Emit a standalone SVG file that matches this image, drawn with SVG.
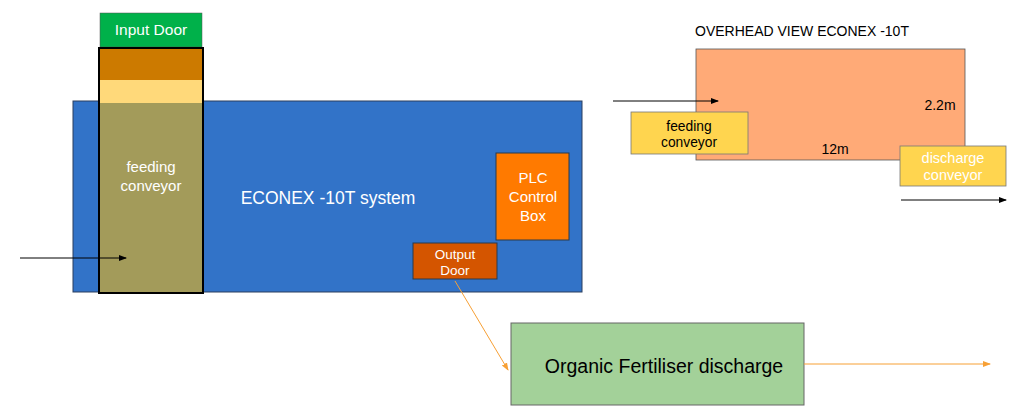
<svg xmlns="http://www.w3.org/2000/svg" width="1024" height="414" viewBox="0 0 1024 414">
<style>
text{font-family:"Liberation Sans",Arial,sans-serif;text-anchor:middle}
.w{fill:#ffffff}
.k{fill:#000000}
.box{stroke:#2a3a4a;stroke-width:1}
</style>
<defs>
<marker id="ak" markerWidth="8" markerHeight="8" refX="7" refY="4" orient="auto" markerUnits="userSpaceOnUse"><path d="M0,1 L8,4 L0,7 Z" fill="#000"/></marker>
<marker id="ao" markerWidth="8" markerHeight="8" refX="7" refY="4" orient="auto" markerUnits="userSpaceOnUse"><path d="M0,1 L8,4 L0,7 Z" fill="#F7A035"/></marker>
</defs>
<rect width="1024" height="414" fill="#fff"/>
<g id="system">
<rect x="73" y="101" width="509" height="191" fill="#3273C8" stroke="#2a3f5f" stroke-width="1"/>
<text x="328" y="204" class="w" font-size="17.5">ECONEX -10T system</text>
</g>
<g id="input-door">
<rect x="100" y="13" width="102" height="34" fill="#00B14A" stroke="#555" stroke-width="0.5"/>
<text x="151" y="35" class="w" font-size="15.5">Input Door</text>
</g>
<g id="feeding-conveyor">
<rect x="99" y="48" width="104" height="32" fill="#CC7A00"/>
<rect x="99" y="80" width="104" height="23" fill="#FFD97A"/>
<rect x="99" y="103" width="104" height="190" fill="#A39B5A"/>
<rect x="99" y="48" width="104" height="245" fill="none" stroke="#000" stroke-width="2"/>
<text x="151" y="172" class="w" font-size="15">feeding</text>
<text x="151" y="191" class="w" font-size="15">conveyor</text>
</g>
<g id="plc">
<rect x="496" y="153" width="73" height="87" fill="#FF7A00" class="box"/>
<text x="533" y="183" class="w" font-size="15">PLC</text>
<text x="533" y="202" class="w" font-size="15">Control</text>
<text x="533" y="221" class="w" font-size="15">Box</text>
</g>
<g id="output-door">
<rect x="413" y="243" width="84" height="36" fill="#D45500" class="box"/>
<text x="455" y="259" class="w" font-size="13.5">Output</text>
<text x="455" y="275" class="w" font-size="13.5">Door</text>
</g>
<g id="discharge">
<rect x="511" y="323" width="293" height="82" fill="#A3D199" stroke="#666" stroke-width="1"/>
<text x="664" y="373" class="k" font-size="19.5">Organic Fertiliser discharge</text>
</g>
<g id="overhead">
<text x="802" y="36" class="k" font-size="14">OVERHEAD VIEW ECONEX -10T</text>
<rect x="696" y="49" width="269" height="111" fill="#FFAA77" stroke="#555" stroke-width="0.8"/>
<text x="940" y="110" class="k" font-size="14">2.2m</text>
<text x="835" y="154" class="k" font-size="14">12m</text>
</g>
<g id="ov-feeding">
<rect x="631" y="112" width="117" height="42" fill="#FFD54F" stroke="#777" stroke-width="0.8"/>
<text x="689" y="131" class="k" font-size="13.8">feeding</text>
<text x="689" y="147" class="k" font-size="13.8">conveyor</text>
</g>
<g id="ov-discharge">
<rect x="900" y="146" width="106" height="40" fill="#FFD54F" stroke="#777" stroke-width="0.8"/>
<text x="953" y="163" class="w" font-size="14.5">discharge</text>
<text x="953" y="180" class="w" font-size="14.5">conveyor</text>
</g>
<g id="connectors" fill="none">
<line x1="20" y1="258" x2="126" y2="258" stroke="#000" stroke-width="1" marker-end="url(#ak)"/>
<line x1="455" y1="281" x2="508" y2="370" stroke="#F7A035" stroke-width="1" marker-end="url(#ao)"/>
<line x1="804" y1="364" x2="990" y2="364" stroke="#F7A035" stroke-width="1" marker-end="url(#ao)"/>
<line x1="613" y1="101" x2="718" y2="101" stroke="#000" stroke-width="1" marker-end="url(#ak)"/>
<line x1="901" y1="200" x2="1006" y2="200" stroke="#000" stroke-width="1" marker-end="url(#ak)"/>
</g>
</svg>
